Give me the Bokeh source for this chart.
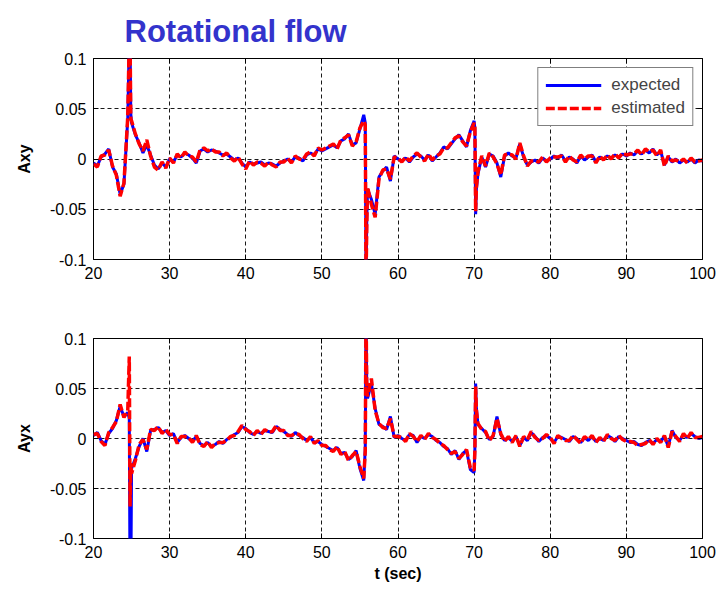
from bokeh.plotting import figure
from bokeh.layouts import column
from bokeh.models import Range1d, FixedTicker, NumeralTickFormatter, LinearAxis
from bokeh.embed import file_html
from bokeh.resources import INLINE

# ---------------- data ----------------
t = [
    20.0, 20.5, 21.0, 21.5, 22.0, 22.5, 23.0, 23.5, 24.0, 24.5,
    24.7, 24.8, 24.9,
    25.0, 25.5, 26.0, 26.5, 27.0, 27.5, 28.0, 28.5, 29.0, 29.5,
    30.0, 30.5, 31.0, 31.5, 32.0, 32.5, 33.0, 33.5, 34.0, 34.5,
    35.0, 35.5, 36.0, 36.5, 37.0, 37.5, 38.0, 38.5, 39.0, 39.5,
    40.0, 40.5, 41.0, 41.5, 42.0, 42.5, 43.0, 43.5, 44.0, 44.5,
    45.0, 45.5, 46.0, 46.5, 47.0, 47.5, 48.0, 48.5, 49.0, 49.5,
    50.0, 50.5, 51.0, 51.5, 52.0, 52.5, 53.0, 53.5, 54.0, 54.5,
    55.0, 55.5,
    55.7, 55.8, 55.9,
    56.0, 56.5, 57.0, 57.5, 58.0, 58.5, 59.0, 59.5,
    60.0, 60.5, 61.0, 61.5, 62.0, 62.5, 63.0, 63.5, 64.0, 64.5,
    65.0, 65.5, 66.0, 66.5, 67.0, 67.5, 68.0, 68.5, 69.0, 69.5,
    70.0,
    70.1, 70.2, 70.3,
    70.5, 71.0, 71.5, 72.0, 72.5, 73.0, 73.5, 74.0, 74.5,
    75.0, 75.5, 76.0, 76.5, 77.0, 77.5, 78.0, 78.5, 79.0, 79.5,
    80.0, 80.5, 81.0, 81.5, 82.0, 82.5, 83.0, 83.5, 84.0, 84.5,
    85.0, 85.5, 86.0, 86.5, 87.0, 87.5, 88.0, 88.5, 89.0, 89.5,
    90.0, 90.5, 91.0, 91.5, 92.0, 92.5, 93.0, 93.5, 94.0, 94.5,
    95.0, 95.5, 96.0, 96.5, 97.0, 97.5, 98.0, 98.5, 99.0, 99.5,
    100.0,
]

axy_expected = [
    -0.004, -0.007, 0.002, 0.005, 0.010, -0.008, -0.015, -0.035, -0.025, 0.040,
    0.120, 0.120, 0.045,
    0.036, 0.024, 0.016, 0.006, 0.014, 0.004, -0.006, -0.010, -0.004, -0.008,
    0.000, -0.003, 0.004, 0.002, 0.006, 0.004, 0.001, -0.004, 0.008, 0.010,
    0.007, 0.009, 0.008, 0.006, 0.004, 0.005, 0.002, -0.001, 0.001, -0.004,
    -0.008, -0.003, -0.005, -0.004, -0.003, -0.006, -0.004, -0.005, -0.007, -0.004,
    -0.002, 0.000, -0.003, 0.002, 0.001, -0.002, 0.004, 0.006, 0.004, 0.010,
    0.008, 0.010, 0.012, 0.014, 0.011, 0.018, 0.020, 0.025, 0.014, 0.016,
    0.030, 0.044,
    0.036, -0.120, -0.060,
    -0.030, -0.040, -0.055, -0.018, -0.012, -0.008, -0.022, 0.003,
    0.000, -0.002, 0.001, -0.003, 0.002, 0.005, 0.003, -0.001, 0.004, -0.002,
    0.002, 0.006, 0.012, 0.010, 0.015, 0.020, 0.024, 0.018, 0.012, 0.028,
    0.038,
    0.030, -0.055, -0.030,
    -0.015, 0.002, -0.008, 0.005, 0.003, -0.004, -0.018, 0.003, 0.006,
    0.003, 0.001, 0.015, 0.002, -0.006, -0.003, -0.001, -0.004, 0.001, -0.002,
    0.000, 0.003, 0.001, 0.004, -0.002, 0.002, 0.000, -0.004, 0.003, -0.001,
    0.002, 0.004, -0.003, 0.002, 0.000, 0.003, 0.001, 0.004, 0.002, 0.005,
    0.003, 0.006, 0.004, 0.008, 0.005, 0.009, 0.006, 0.010, 0.004, 0.008,
    -0.006, 0.002, -0.003, 0.000, -0.004, -0.001, -0.003, 0.000, -0.004, -0.001,
    -0.002,
]

axy_estimated = [
    -0.005, -0.008, 0.003, 0.004, 0.009, -0.007, -0.016, -0.037, -0.024, 0.042,
    0.120, 0.120, 0.040,
    0.038, 0.025, 0.015, 0.008, 0.019, 0.003, -0.008, -0.011, -0.003, -0.009,
    0.001, -0.004, 0.005, 0.001, 0.007, 0.003, 0.002, -0.003, 0.009, 0.011,
    0.008, 0.010, 0.007, 0.007, 0.003, 0.006, 0.001, -0.002, 0.002, -0.005,
    -0.010, -0.002, -0.006, -0.003, -0.004, -0.007, -0.003, -0.006, -0.008, -0.003,
    -0.003, 0.001, -0.004, 0.003, 0.000, -0.001, 0.005, 0.007, 0.003, 0.011,
    0.009, 0.011, 0.013, 0.015, 0.010, 0.019, 0.021, 0.024, 0.013, 0.017,
    0.031, 0.038,
    0.034, -0.120, -0.065,
    -0.028, -0.045, -0.058, -0.020, -0.011, -0.010, -0.020, 0.002,
    0.001, -0.003, 0.002, -0.002, 0.003, 0.006, 0.002, -0.002, 0.005, -0.001,
    0.003, 0.005, 0.011, 0.011, 0.016, 0.021, 0.023, 0.017, 0.013, 0.027,
    0.036,
    0.032, -0.052, -0.028,
    -0.013, 0.003, -0.007, 0.006, 0.002, -0.005, -0.016, 0.004, 0.005,
    0.004, 0.000, 0.016, 0.003, -0.007, -0.002, -0.002, -0.003, 0.002, -0.003,
    0.001, 0.002, 0.002, 0.003, -0.003, 0.003, -0.001, -0.003, 0.004, 0.000,
    0.003, 0.003, -0.004, 0.003, -0.001, 0.004, 0.000, 0.005, 0.001, 0.006,
    0.004, 0.005, 0.005, 0.009, 0.004, 0.010, 0.007, 0.009, 0.003, 0.009,
    -0.007, 0.003, -0.002, -0.001, -0.003, 0.000, -0.004, 0.001, -0.003, -0.002,
    -0.001,
]

ayx_expected = [
    0.003, 0.006, -0.002, -0.006, 0.005, 0.010, 0.018, 0.032, 0.022, 0.026,
    0.020, -0.150, -0.150,
    -0.030, -0.020, -0.008, 0.000, -0.013, 0.008, 0.009, 0.011, 0.006, 0.008,
    0.003, 0.005, -0.004, 0.001, 0.003, 0.000, -0.003, 0.002, -0.005, -0.007,
    -0.004, -0.008, -0.006, -0.003, -0.005, -0.001, 0.001, 0.004, 0.006, 0.012,
    0.010, 0.006, 0.004, 0.007, 0.005, 0.008, 0.007, 0.006, 0.012, 0.009,
    0.007, 0.004, 0.002, 0.006, 0.003, 0.001, -0.002, 0.001, -0.004, -0.003,
    -0.006, -0.008, -0.010, -0.012, -0.009, -0.015, -0.014, -0.021, -0.018, -0.012,
    -0.030, -0.042,
    -0.010, 0.130, 0.050,
    0.040, 0.055, 0.030, 0.014, 0.012, 0.009, 0.022, 0.001,
    0.003, 0.000, -0.002, 0.004, 0.003, -0.004, 0.002, 0.000, 0.004, 0.002,
    -0.002, -0.004, -0.008, -0.010, -0.016, -0.012, -0.021, -0.015, -0.012, -0.031,
    -0.034,
    -0.010, 0.055, 0.030,
    0.014, 0.010, 0.006, -0.001, 0.002, 0.022, 0.004, -0.002, 0.001,
    -0.003, 0.002, -0.007, 0.001, -0.002, 0.006, 0.002, -0.003, 0.001, 0.003,
    0.000, -0.004, 0.002, 0.001, -0.001, -0.003, 0.002, 0.000, -0.004, 0.001,
    -0.002, 0.002, -0.003, 0.000, -0.002, 0.003, 0.001, -0.003, 0.002, 0.000,
    -0.002, -0.004, -0.003, -0.006, -0.007, -0.004, -0.002, -0.005, -0.001, -0.003,
    0.002, -0.008, 0.008, 0.001, -0.002, 0.004, 0.001, 0.005, 0.002, 0.000,
    0.001,
]

ayx_estimated = [
    0.004, 0.005, -0.003, -0.007, 0.006, 0.011, 0.017, 0.034, 0.021, 0.028,
    0.082, -0.068, -0.025,
    -0.035, -0.022, -0.006, -0.001, -0.011, 0.009, 0.008, 0.012, 0.005, 0.009,
    0.004, 0.004, -0.005, 0.002, 0.002, 0.001, -0.004, 0.003, -0.006, -0.008,
    -0.003, -0.009, -0.005, -0.004, -0.004, -0.002, 0.002, 0.003, 0.007, 0.013,
    0.009, 0.007, 0.003, 0.008, 0.004, 0.009, 0.006, 0.007, 0.013, 0.008,
    0.008, 0.003, 0.003, 0.005, 0.004, 0.000, -0.003, 0.002, -0.005, -0.002,
    -0.007, -0.007, -0.011, -0.013, -0.008, -0.016, -0.013, -0.022, -0.017, -0.013,
    -0.028, -0.040,
    -0.012, 0.130, 0.048,
    0.042, 0.060, 0.028, 0.015, 0.011, 0.010, 0.020, 0.002,
    0.002, 0.001, -0.003, 0.005, 0.002, -0.003, 0.003, -0.001, 0.005, 0.001,
    -0.001, -0.005, -0.007, -0.011, -0.015, -0.013, -0.020, -0.016, -0.011, -0.029,
    -0.032,
    -0.012, 0.052, 0.028,
    0.015, 0.009, 0.007, -0.002, 0.003, 0.020, 0.005, -0.003, 0.002,
    -0.004, 0.003, -0.008, 0.002, -0.001, 0.007, 0.001, -0.002, 0.000, 0.004,
    0.001, -0.005, 0.003, 0.000, -0.002, -0.002, 0.003, -0.001, -0.005, 0.002,
    -0.001, 0.003, -0.004, 0.001, -0.003, 0.004, 0.000, -0.002, 0.003, -0.001,
    -0.003, -0.003, -0.004, -0.007, -0.006, -0.005, -0.001, -0.006, 0.000, -0.004,
    0.003, -0.009, 0.007, 0.002, -0.003, 0.005, 0.000, 0.006, 0.001, 0.001,
    0.002,
]

x_ticks = [20, 30, 40, 50, 60, 70, 80, 90, 100]
y_ticks = [-0.1, -0.05, 0, 0.05, 0.1]

for arr in (axy_expected, axy_estimated, ayx_expected, ayx_estimated):
    assert len(arr) == len(t), (len(arr), len(t))

FONT = "Liberation Sans"


def make_panel(height, top, bottom, ylabel, expected, estimated, xlabel=None):
    p = figure(width=718, height=height, output_backend="svg", toolbar_location=None,
               x_range=Range1d(20, 100), y_range=Range1d(-0.1, 0.1),
               min_border_left=93, min_border_right=16,
               min_border_top=top, min_border_bottom=bottom)
    p.background_fill_color = "white"
    p.border_fill_color = "white"
    p.outline_line_color = "black"
    p.outline_line_width = 1

    p.xaxis.ticker = FixedTicker(ticks=x_ticks)
    p.yaxis.ticker = FixedTicker(ticks=y_ticks)
    p.yaxis.formatter = NumeralTickFormatter(format="0.[00]")
    for ax in (p.xaxis[0], p.yaxis[0]):
        ax.axis_line_color = None
        ax.major_tick_in = 5
        ax.major_tick_out = 0
        ax.minor_tick_line_color = None
        ax.major_label_text_font = FONT
        ax.major_label_text_font_size = "16px"
        ax.major_label_text_color = "black"
        ax.major_label_standoff = 7
        ax.axis_label_text_font = FONT
        ax.axis_label_text_font_size = "16px"
        ax.axis_label_text_font_style = "bold"
        ax.axis_label_text_color = "black"
    p.yaxis.axis_label = ylabel
    p.yaxis.axis_label_standoff = 14
    if xlabel:
        p.xaxis.axis_label = xlabel
        p.xaxis.axis_label_standoff = 4

    # tick marks on top and right edges (box style), no labels drawn
    for loc in ("above", "right"):
        ax = LinearAxis(ticker=FixedTicker(ticks=x_ticks if loc == "above" else y_ticks))
        ax.axis_line_color = None
        ax.major_tick_in = 5
        ax.major_tick_out = 0
        ax.minor_tick_line_color = None
        ax.major_label_text_font_size = "1px"
        ax.major_label_text_color = None
        ax.major_label_text_alpha = 0
        ax.major_label_standoff = 0
        p.add_layout(ax, loc)

    p.xgrid.ticker = FixedTicker(ticks=x_ticks[1:-1])
    p.ygrid.ticker = FixedTicker(ticks=y_ticks[1:-1])
    for g in (p.xgrid[0], p.ygrid[0]):
        g.grid_line_color = "black"
        g.grid_line_dash = "4 3"
        g.grid_line_width = 1
        g.grid_line_alpha = 0.9

    p.line(t, expected, line_color="#0000ff", line_width=3, legend_label="expected")
    p.line(t, estimated, line_color="#ff0000", line_width=3.5, line_dash="9 3",
           legend_label="estimated")
    return p


p1 = make_panel(300, 58, 41, "Axy", axy_expected, axy_estimated)
p1.title.text = "Rotational flow"
p1.title.text_font = FONT
p1.title.text_font_size = "31px"
p1.title.text_font_style = "bold"
p1.title.text_color = "#3333cc"
p1.title.align = "left"
p1.title.offset = 31
p1.title.standoff = 20

p1.legend.location = "top_right"
p1.legend.margin = 9
p1.legend.padding = 7
p1.legend.spacing = 3
p1.legend.glyph_width = 56
p1.legend.glyph_height = 20
p1.legend.label_standoff = 10
p1.legend.label_text_font = FONT
p1.legend.label_text_font_size = "17px"
p1.legend.border_line_color = "black"
p1.legend.border_line_width = 1
p1.legend.background_fill_alpha = 1

p2 = make_panel(289, 38, 51, "Ayx", ayx_expected, ayx_estimated, xlabel="t (sec)")
p2.legend.visible = False

layout = column(p1, p2, spacing=0)

open("out.html", "w").write(file_html(layout, INLINE))
